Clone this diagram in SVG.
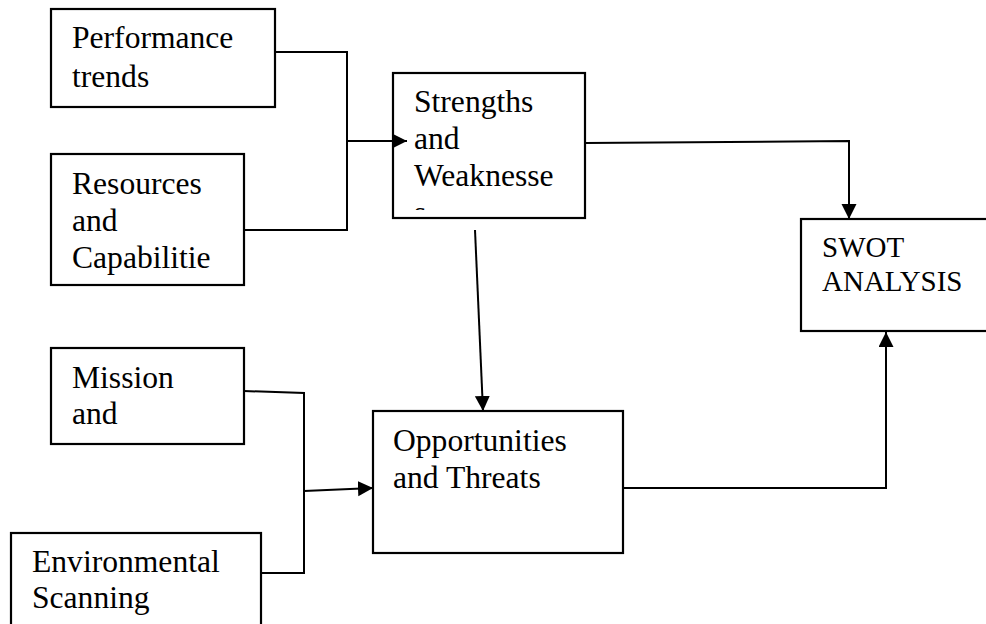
<svg xmlns="http://www.w3.org/2000/svg" width="986" height="624" viewBox="0 0 986 624">
<style>
.box{fill:#fff;stroke:#000;stroke-width:2.2}
.lbl{font-family:'Liberation Serif','Times New Roman',Times,'DejaVu Serif',serif;font-size:31.6px;fill:#000}
.sm{font-size:29px}
.ln{fill:none;stroke:#000;stroke-width:2}
</style>
<defs>
<marker id="ah" markerUnits="userSpaceOnUse" markerWidth="16" markerHeight="16" refX="15" refY="7.5" orient="auto" viewBox="0 0 16 16">
<path d="M0,0 L15,7.5 L0,15 z" fill="#000"/>
</marker>
<clipPath id="swclip"><rect x="393" y="73" width="192" height="137"/></clipPath>
</defs>
<rect width="986" height="624" fill="#fff"/>
<g id="performance">
<rect class="box" x="51" y="9" width="224" height="98"/>
<text class="lbl" font-family="Liberation Serif, serif" x="72" y="48">Performance</text>
<text class="lbl" font-family="Liberation Serif, serif" x="72" y="87">trends</text>
</g>
<g id="resources">
<rect class="box" x="51" y="154" width="193" height="131"/>
<text class="lbl" x="72" y="194">Resources</text>
<text class="lbl" x="72" y="231">and</text>
<text class="lbl" x="72" y="268">Capabilitie</text>
</g>
<g id="strengths">
<rect class="box" x="393" y="73" width="192" height="145"/>
<g clip-path="url(#swclip)">
<text class="lbl" x="414" y="112">Strengths</text>
<text class="lbl" x="414" y="149">and</text>
<text class="lbl" x="414" y="186">Weaknesse</text>
<text class="lbl" x="414" y="223">s</text>
</g>
</g>
<g id="swot">
<rect class="box" x="801" y="219" width="200" height="112"/>
<text class="lbl sm" x="822" y="257">SWOT</text>
<text class="lbl sm" x="822" y="291">ANALYSIS</text>
</g>
<g id="mission">
<rect class="box" x="51" y="348" width="193" height="96"/>
<text class="lbl" x="72" y="388">Mission</text>
<text class="lbl" x="72" y="424">and</text>
</g>
<g id="environmental">
<rect class="box" x="11" y="533" width="250" height="100"/>
<text class="lbl" x="32" y="572">Environmental</text>
<text class="lbl" x="32" y="608">Scanning</text>
</g>
<g id="opportunities">
<rect class="box" x="373" y="411" width="250" height="142"/>
<text class="lbl" x="393" y="451">Opportunities</text>
<text class="lbl" x="393" y="488">and Threats</text>
</g>
<g id="connectors">
<polyline class="ln" points="275,52 347,52 347,230 244,230"/>
<line class="ln" x1="347" y1="141" x2="407" y2="141" marker-end="url(#ah)"/>
<polyline class="ln" points="585,143 849,141 849,219" marker-end="url(#ah)"/>
<line class="ln" x1="475" y1="230" x2="483" y2="411" marker-end="url(#ah)"/>
<polyline class="ln" points="244,391 304,393 304,573 261,573"/>
<line class="ln" x1="304" y1="491" x2="373" y2="488" marker-end="url(#ah)"/>
<polyline class="ln" points="623,488 886,488 886,332" marker-end="url(#ah)"/>
</g>
</svg>
